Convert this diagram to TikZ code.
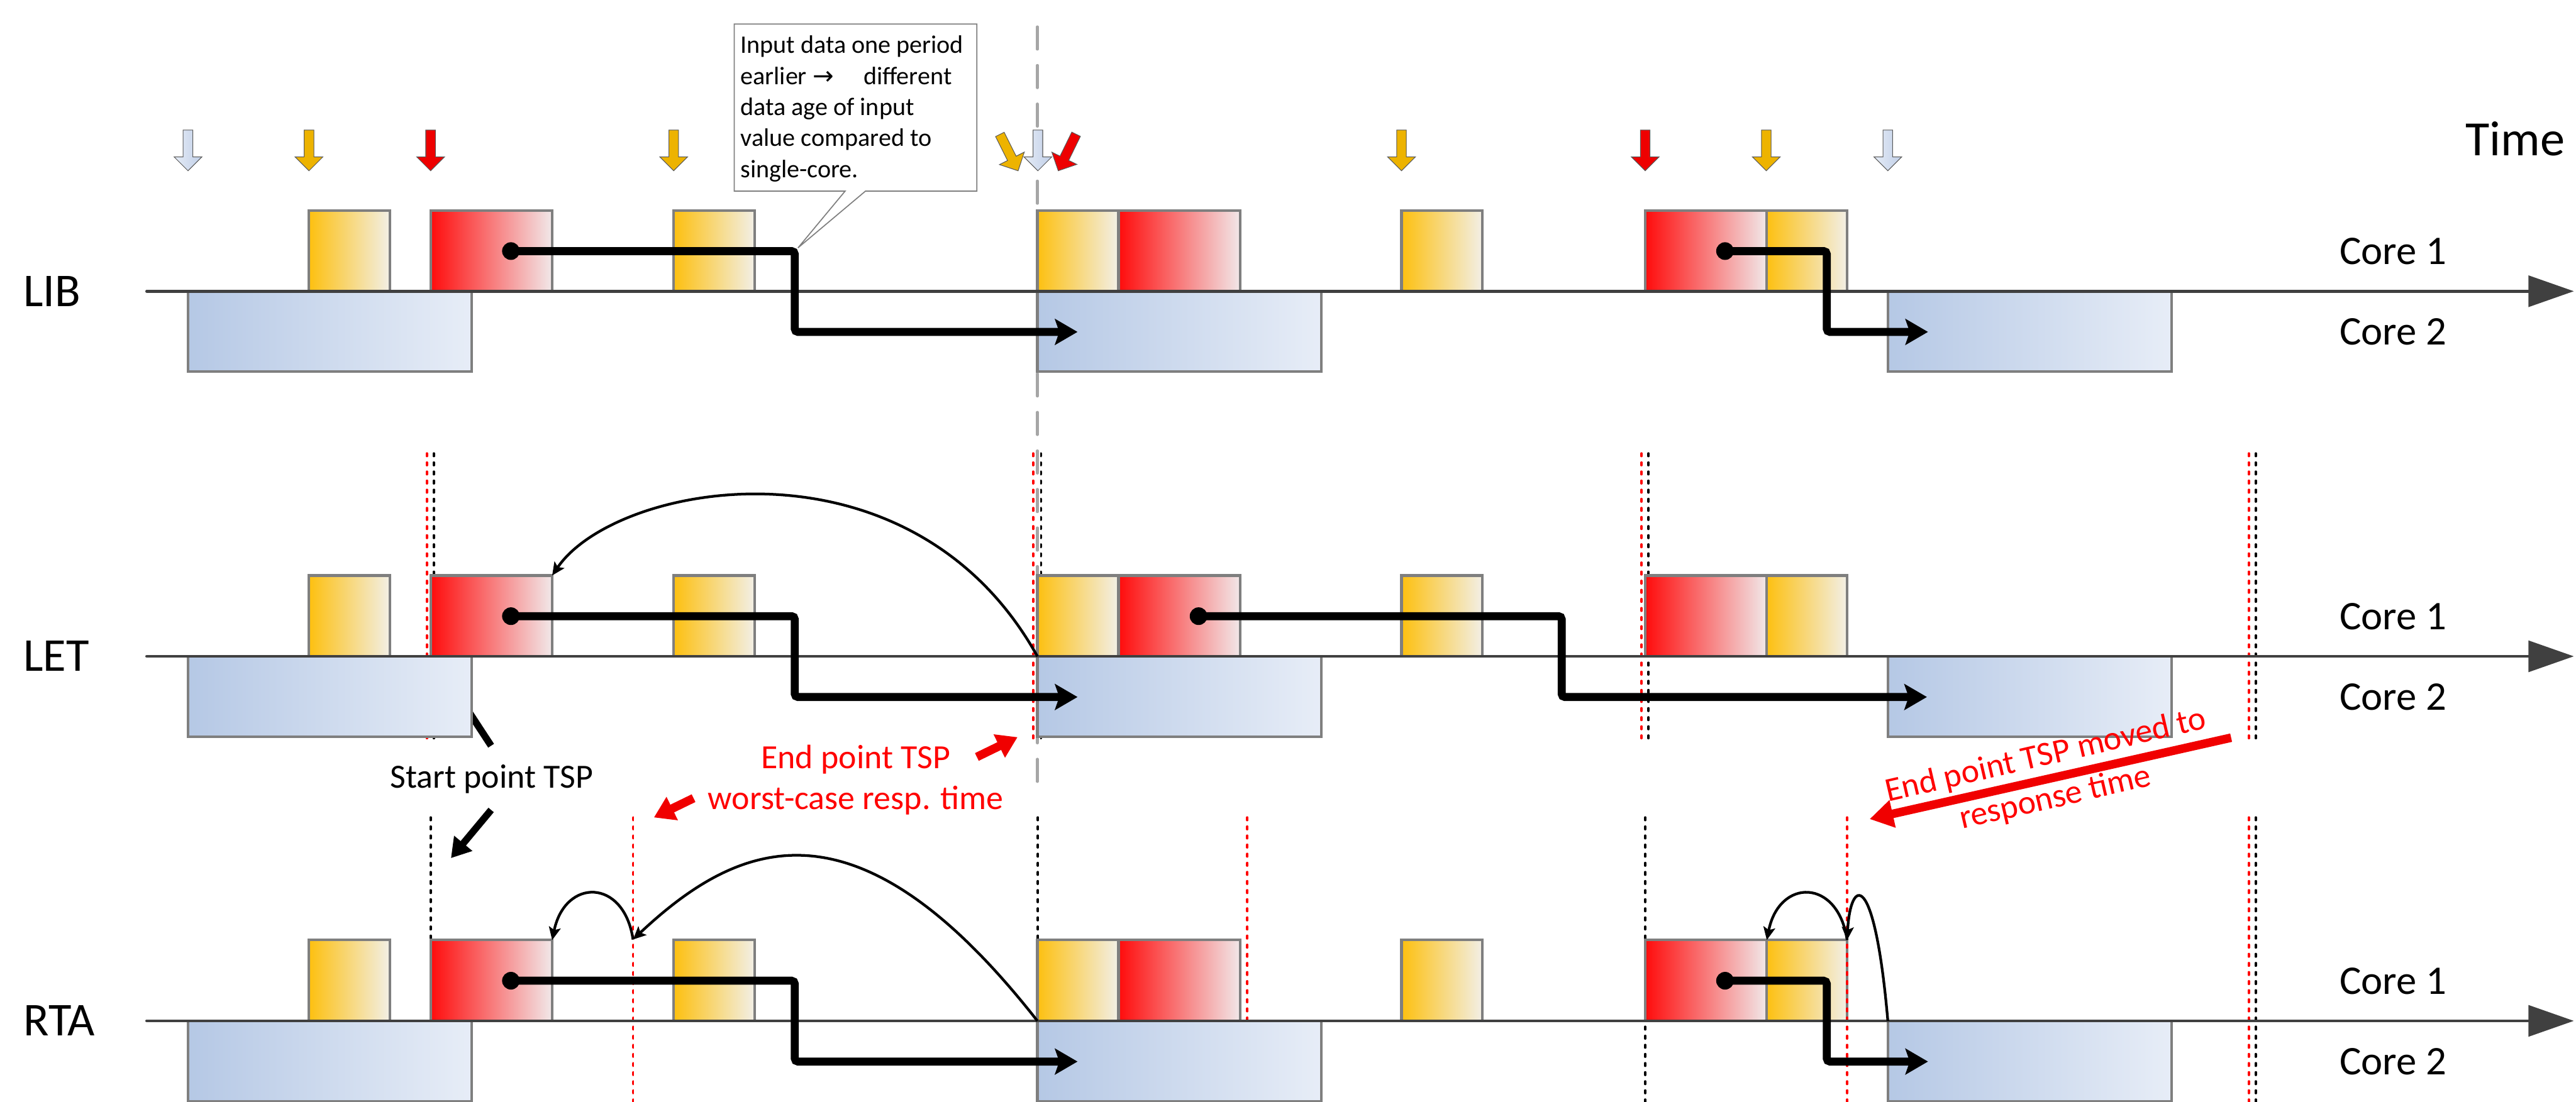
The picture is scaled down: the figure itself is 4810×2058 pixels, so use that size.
\documentclass[tikz,border=0pt]{standalone}
\usepackage{fontspec}
\setmainfont{Carlito}
\newfontfamily\arrowfont{DejaVu Sans}
\usetikzlibrary{arrows.meta}

\definecolor{boxgrey}{HTML}{7F7F7F}
\definecolor{axisgrey}{HTML}{404040}
\definecolor{dashgrey}{HTML}{A6A6A6}
\definecolor{yelL}{HTML}{FDC010}
\definecolor{yelR}{HTML}{F2EFE6}
\definecolor{redL}{HTML}{FF0C0C}
\definecolor{redR}{HTML}{F1E8E9}
\definecolor{bluL}{HTML}{B5C8E5}
\definecolor{bluR}{HTML}{E7EDF7}
\definecolor{evBlueL}{HTML}{E6ECF6}
\definecolor{evBlueR}{HTML}{C0CFE8}
\definecolor{evOrange}{HTML}{EDB300}
\definecolor{evRed}{HTML}{EE0000}
\definecolor{evline}{HTML}{595959}
\definecolor{annred}{HTML}{F00000}
\definecolor{txtred}{HTML}{FF0000}
\definecolor{dashred}{HTML}{FF0000}

\tikzset{
  evarrow/.pic={
    \path[pic actions] (-9,-76) -- (9,-76) -- (9,-26) -- (26,-26) -- (0,0)
      -- (-26,-26) -- (-9,-26) -- cycle;
  }
}

\begin{document}
\begin{tikzpicture}[x=0.1mm, y=-0.1mm,
  task/.style={draw=boxgrey, line width=0.5mm, inner sep=0pt, outer sep=0pt,
    minimum height=15.1mm},
  ybox/.style={task, anchor=south west, minimum width=15.1mm,
    left color=yelL, right color=yelR},
  rbox/.style={task, anchor=south west, minimum width=22.7mm,
    left color=redL, right color=redR},
  bbox/.style={task, anchor=north west, minimum width=53mm, minimum height=15mm,
    left color=bluL, right color=bluR},
  axisline/.style={draw=axisgrey, line width=0.55mm, line cap=round,
    -{Triangle[length=8.5mm, width=5.8mm]}},
  greydash/.style={draw=dashgrey, line width=0.5mm, line cap=round,
    dash pattern=on 4.2mm off 3mm},
  blkdash/.style={draw=black, line width=0.45mm, line cap=round,
    dash pattern=on 0.5mm off 1.2mm},
  reddash/.style={draw=dashred, line width=0.45mm, line cap=round,
    dash pattern=on 0.5mm off 1.2mm},
  dot/.style={circle, fill=black, minimum size=3.3mm, inner sep=0pt},
  flow/.style={draw=black, line width=1.5mm, rounded corners=0.6mm,
    -{Stealth[length=4.2mm, width=4.8mm, inset=0.8mm]}},
  curvearrow/.style={draw=black, line width=0.5mm,
    -{Stealth[length=2.4mm, width=2.2mm, inset=0.5mm]}},
  blackarrow/.style={draw=black, line width=1.3mm,
    -{Triangle[length=3.6mm, width=4.2mm]}},
  redarrow/.style={draw=annred, line width=1.6mm,
    -{Triangle[length=3.8mm, width=4.6mm]}},
  evblue/.style={left color=evBlueL, right color=evBlueR, draw=evline, line width=0.12mm},
  evorange/.style={fill=evOrange, draw=evline, line width=0.12mm},
  evred/.style={fill=evRed, draw=evline, line width=0.12mm},
  rowlabel/.style={anchor=base west, inner sep=0pt, font=\fontsize{25pt}{30pt}\selectfont},
  corelabel/.style={anchor=base west, inner sep=0pt, font=\fontsize{21.6pt}{26pt}\selectfont},
  anntext/.style={inner sep=0pt, font=\fontsize{18pt}{22pt}\selectfont},
]
\useasboundingbox (0,0) rectangle (4810,2058);

% long grey period marker
\coordinate (gtop) at (1937,50);
\coordinate (gbot) at (1937,1475);
\draw[greydash] (gtop) -- (gbot);

% black release markers (behind the task boxes)
\foreach \xx in {810,1944,3078,4212} \draw[blkdash] (\xx,847) -- (\xx,1380);
\foreach \xx in {804,1938,3072,4212} \draw[blkdash] (\xx,1527) -- (\xx,2058);

% pointer from the start label up to the LET core-2 task
\coordinate (stC) at (917,1393);
\coordinate (stD) at (830,1260);
\draw[blackarrow] (stC) -- (stD);

% core-1 tasks of the three rows
\foreach \rw/\ay in {0/544, 1/1226, 2/1907} {
  \node[ybox] (y\rw-1) at (577,\ay) {};
  \node[ybox] (y\rw-2) at (1258,\ay) {};
  \node[ybox] (y\rw-3) at (1937,\ay) {};
  \node[ybox] (y\rw-4) at (2617,\ay) {};
  \node[ybox] (y\rw-5) at (3298,\ay) {};
  \node[rbox] (r\rw-1) at (804,\ay) {};
  \node[rbox] (r\rw-2) at (2089,\ay) {};
  \node[rbox] (r\rw-3) at (3072,\ay) {};
}

% red response-time markers
\foreach \xx in {797,1929,3065,4199} \draw[reddash] (\xx,847) -- (\xx,1380);
\foreach \xx in {1182,2329,3449,4199} \draw[reddash] (\xx,1527) -- (\xx,2058);

% core-2 tasks and time axes
\foreach \rw/\ay in {0/544, 1/1226, 2/1907} {
  \node[bbox] (b\rw-1) at (351,\ay) {};
  \node[bbox] (b\rw-2) at (1937,\ay) {};
  \node[bbox] (b\rw-3) at (3525,\ay) {};
  \coordinate (as\rw) at (274,\ay);
  \coordinate (ae\rw) at (4806,\ay);
  \draw[axisline] (as\rw) -- (ae\rw);
  \node[corelabel] (cA\rw) at (4368,\ay-50) {Core 1};
  \node[corelabel] (cB\rw) at (4368,\ay+100) {Core 2};
}

% data flow from the red task to the core-2 task
\foreach \rw/\ay/\dx/\kx/\tx in {0/544/3221/3411/3600, 1/1226/2238/2916/3598, 2/1907/3221/3411/3600} {
  \node[dot] (pA\rw) at (954,\ay-75) {};
  \coordinate (kA\rw) at (1484,\ay+76);
  \coordinate (tA\rw) at (2012,\ay+76);
  \draw[flow] (pA\rw.center) -| (kA\rw) -- (tA\rw);
  \node[dot] (pB\rw) at (\dx,\ay-75) {};
  \coordinate (kB\rw) at (\kx,\ay+76);
  \coordinate (tB\rw) at (\tx,\ay+76);
  \draw[flow] (pB\rw.center) -| (kB\rw) -- (tB\rw);
}

% LET: output taken back to the release of the red task
\draw[curvearrow] (b1-2.north west) .. controls (1700,800) and (1150,900) .. (r1-1.north east);

% RTA: output moved back to the response times
\coordinate (rq) at (1182,1755);
\draw[curvearrow] (b2-2.north west) .. controls (1601,1478) and (1381,1568) .. (rq);
\draw[curvearrow] (rq) .. controls (1165,1640) and (1055,1640) .. (r2-1.north east);
\draw[curvearrow] (b2-3.north west) .. controls (3500,1620) and (3455,1640) .. (y2-5.north east);
\draw[curvearrow] (y2-5.north east) .. controls (3432,1640) and (3322,1640) .. (r2-3.north east);

% annotations
\node[anntext, anchor=base west] (st) at (728,1472) {Start point TSP};
\coordinate (stA) at (917,1513);
\coordinate (stB) at (842,1603);
\draw[blackarrow] (stA) -- (stB);

\node[anntext, align=center, text=txtred,
  font=\fontsize{18pt}{21.9pt}\selectfont] (ep) at (1598,1457)
  {End point TSP\\worst-case resp. time};
\coordinate (eA) at (1824,1414);
\coordinate (eB) at (1900,1377);
\draw[redarrow] (eA) -- (eB);
\coordinate (eC) at (1295,1491);
\coordinate (eD) at (1221,1527);
\draw[redarrow] (eC) -- (eD);

\node[anntext, align=center, rotate=13, text=txtred,
  font=\fontsize{18pt}{23pt}\selectfont] (mv) at (3829,1452)
  {End point TSP moved to\\response time};
\coordinate (mA) at (4166,1378);
\coordinate (mB) at (3491,1530);
\draw[draw=annred, line width=1.6mm, -{Triangle[length=4.4mm, width=5mm]}] (mA) -- (mB);

% callout
\coordinate (ctip) at (1490,463);
\draw[fill=white, draw=boxgrey, line width=0.2mm]
  (1371,45) -- (1824,45) -- (1824,357) -- (1616,357) -- (ctip) -- (1578,357)
  -- (1371,357) -- cycle;
\node[align=left, anchor=north west, inner sep=0pt,
  font=\fontsize{13.4pt}{16.5pt}\selectfont] (note) at (1382,66)
  {Input data one period\\earlier {\arrowfont →}\hspace{5.6mm}different\\data age of input\\value compared to\\single-core.};

% activation events
\pic[evblue] at (351,319) {evarrow};
\pic[evblue] at (1938,319) {evarrow};
\pic[evblue] at (3525,319) {evarrow};
\pic[evorange] at (577,319) {evarrow};
\pic[evorange] at (1258,319) {evarrow};
\pic[evorange, rotate=26.6] at (1901,319) {evarrow};
\pic[evorange] at (2617,319) {evarrow};
\pic[evorange] at (3298,319) {evarrow};
\pic[evred] at (804,319) {evarrow};
\pic[evred, rotate=-26] at (1976,319) {evarrow};
\pic[evred] at (3072,319) {evarrow};

% labels
\node[rowlabel] (lib) at (43,572) {LIB};
\node[rowlabel] (let) at (43,1254) {LET};
\node[rowlabel] (rta) at (43,1935) {RTA};
\node[anchor=base west, inner sep=0pt, font=\fontsize{26.2pt}{31pt}\selectfont] (time) at (4603,291) {Time};
\end{tikzpicture}
\end{document}
